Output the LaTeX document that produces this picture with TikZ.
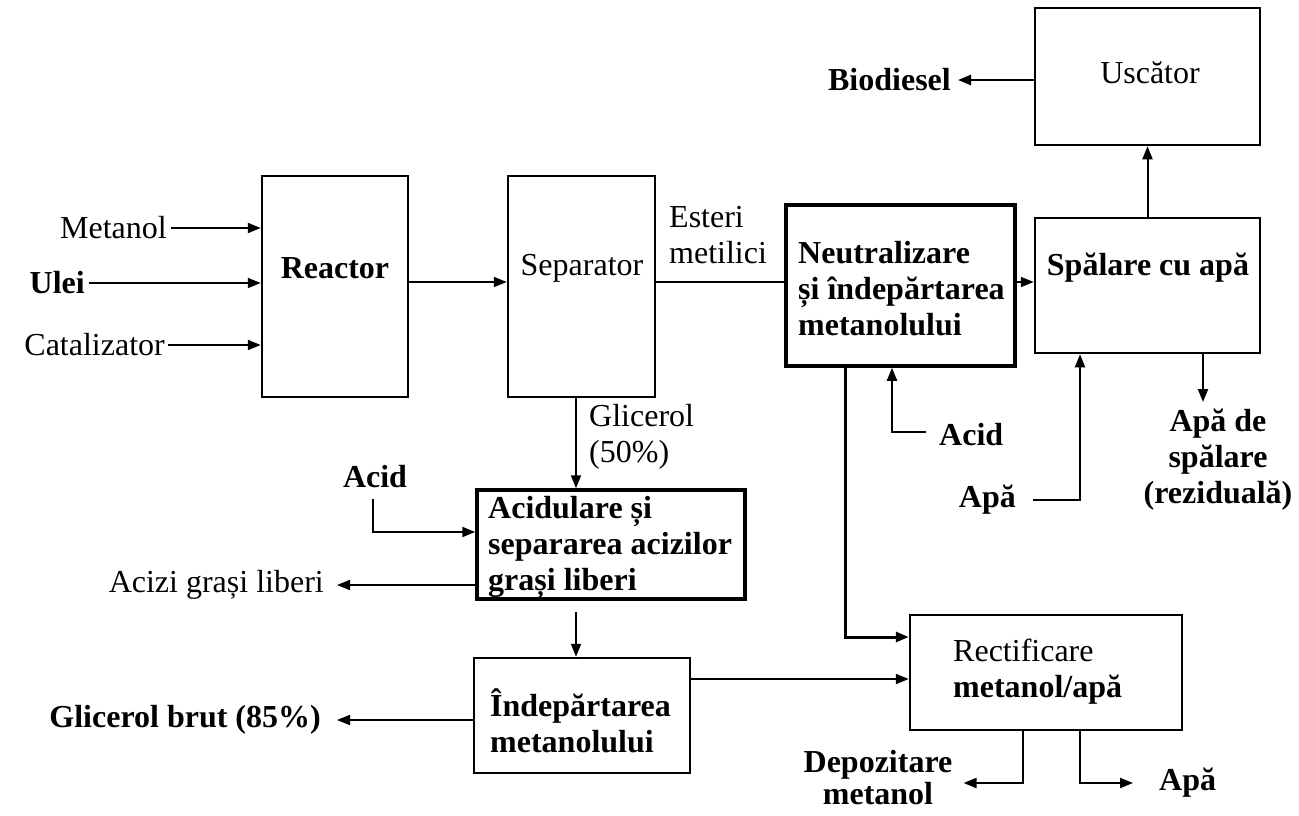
\documentclass[tikz,border=0pt]{standalone}
\usepackage{fontspec}
\setmainfont{Liberation Serif}
\usetikzlibrary{arrows.meta}
\begin{document}
\begin{tikzpicture}[x=1pt,y=-1pt,
  every node/.style={font=\fontsize{32}{36}\selectfont},
  box/.style={draw, line width=2.5pt, rectangle, inner sep=0pt},
  thickbox/.style={box, line width=3.5pt},
  lbl/.style={inner sep=1pt, align=left},
  ln/.style={line width=2pt},
  arr/.style={line width=2pt, -{Triangle[length=13pt,width=10pt]}}
]
\useasboundingbox[fill=white] (0,0) rectangle (1299,815);

% boxes
\node[box, minimum width=146pt, minimum height=221pt] (reactor) at (335,286.5) {};
\node[box, minimum width=147pt, minimum height=221pt] (separator) at (581.5,286.5) {};
\node[thickbox, minimum width=229pt, minimum height=161pt] (neutr) at (900.5,285.5) {};
\node[box, minimum width=225pt, minimum height=135pt] (spalare) at (1147.5,285.5) {};
\node[box, minimum width=225pt, minimum height=137pt] (uscator) at (1147.5,76.5) {};
\node[thickbox, minimum width=268pt, minimum height=109pt] (acidbox) at (611,544.5) {};
\node[box, minimum width=216pt, minimum height=115pt] (indep) at (582,715.5) {};
\node[box, minimum width=272pt, minimum height=115pt] (rect) at (1046,672.5) {};

% box texts
\node[lbl] (reactorlbl) at (335,268) {\textbf{Reactor}};
\node[lbl] (separatorlbl) at (582,268) {Separator};
\node[lbl, anchor=west] (neutrlbl) at (797,289) {\textbf{Neutralizare}\\\textbf{și îndepărtarea}\\\textbf{metanolului}};
\node[lbl] (spalarelbl) at (1148,268) {\textbf{Spălare cu apă}};
\node[lbl] (uscatorlbl) at (1150,73) {Uscător};
\node[lbl, anchor=west] (acidboxlbl) at (487,547) {\textbf{Acidulare și}\\\textbf{separarea acizilor}\\\textbf{grași liberi}};
\node[lbl, anchor=west] (indeplbl) at (489,721) {\textbf{Îndepărtarea}\\\textbf{metanolului}};
\node[lbl, anchor=west] (rectlbl) at (952,672) {Rectificare\\\textbf{metanol/apă}};

% stream labels
\node[lbl, anchor=east] (metanol) at (168,228) {Metanol};
\node[lbl, anchor=east] (ulei) at (86,283) {\textbf{Ulei}};
\node[lbl, anchor=east] (catal) at (166,345) {Catalizator};
\node[lbl, anchor=west] (esteri) at (668,235) {Esteri\\metilici};
\node[lbl, anchor=west] (glic50) at (588,437) {Glicerol\\(50\%)};
\node[lbl, anchor=east] (biodiesel) at (952,80) {\textbf{Biodiesel}};
\node[lbl, anchor=west] (acid2) at (938,435) {\textbf{Acid}};
\node[lbl, anchor=east] (apa2) at (1017,500) {\textbf{Apă}};
\node[lbl, align=center] (apaspal) at (1218,460) {\textbf{Apă de}\\\textbf{spălare}\\\textbf{(reziduală)}};
\node[lbl] (acid1) at (375,477) {\textbf{Acid}};
\node[lbl, anchor=east] (acizi) at (325,585) {Acizi grași liberi};
\node[lbl, anchor=east] (glbrut) at (322,720) {\textbf{Glicerol brut (85\%)}};
\node[lbl, align=center, font=\fontsize{32}{32}\selectfont] (depoz) at (878,778) {\textbf{Depozitare}\\\textbf{metanol}};
\node[lbl, anchor=west] (apa3) at (1158,783) {\textbf{Apă}};

% helper coordinates
\coordinate (mainline) at (0,282);
\coordinate (glx) at (576,440);
\coordinate (wout) at (1203,402);
\coordinate (apax) at (1080,0);
\coordinate (acidturn) at (892,432);
\coordinate (nturn) at (845,637);
\coordinate (indepline) at (0,679);
\coordinate (dturn) at (1023,783);
\coordinate (aturn) at (1080,783);

% connectors
\draw[arr] ([xshift=3pt]metanol.east) -- (reactor.west |- metanol.east);
\draw[arr] ([xshift=3pt]ulei.east) -- (reactor.west |- ulei.east);
\draw[arr] ([xshift=2pt]catal.east) -- (reactor.west |- catal.east);
\draw[arr] (reactor.east |- mainline) -- (separator.west |- mainline);
\draw[ln] (separator.east |- mainline) -- (neutr.west |- mainline);
\draw[arr] (neutr.east |- mainline) -- (spalare.west |- mainline);
\draw[arr] (spalare.north) -- (uscator.south);
\draw[arr] (uscator.west |- biodiesel.east) -- ([xshift=6pt]biodiesel.east);
\draw[arr] (spalare.south -| wout) -- (wout);
\draw[arr] ([xshift=16pt]apa2.east) -- (apa2.east -| apax) -- (spalare.south -| apax);
\draw[arr] ([xshift=-12pt]acid2.west |- acidturn) -- (acidturn) -- (neutr.south -| acidturn);
\draw[arr, line width=3pt] (neutr.south -| nturn) -- (nturn) -- (rect.west |- nturn);
\draw[arr] (separator.south -| glx) -- (acidbox.north -| glx);
\draw[arr] ([xshift=-2pt,yshift=-10pt]acid1.south) |- (acidbox.west |- 0,532);
\draw[arr] (acidbox.west |- acizi.east) -- ([xshift=12pt]acizi.east);
\draw[arr] ([yshift=-11pt]acidbox.south -| glx) -- (indep.north -| glx);
\draw[arr] (indep.west |- glbrut.east) -- ([xshift=15pt]glbrut.east);
\draw[arr] (indep.east |- indepline) -- (rect.west |- indepline);
\draw[arr] (rect.south -| dturn) -- (dturn) -- ([xshift=10pt]depoz.east |- dturn);
\draw[arr] (rect.south -| aturn) -- (aturn) -- ([xshift=-25pt]apa3.west |- aturn);
\end{tikzpicture}
\end{document}
